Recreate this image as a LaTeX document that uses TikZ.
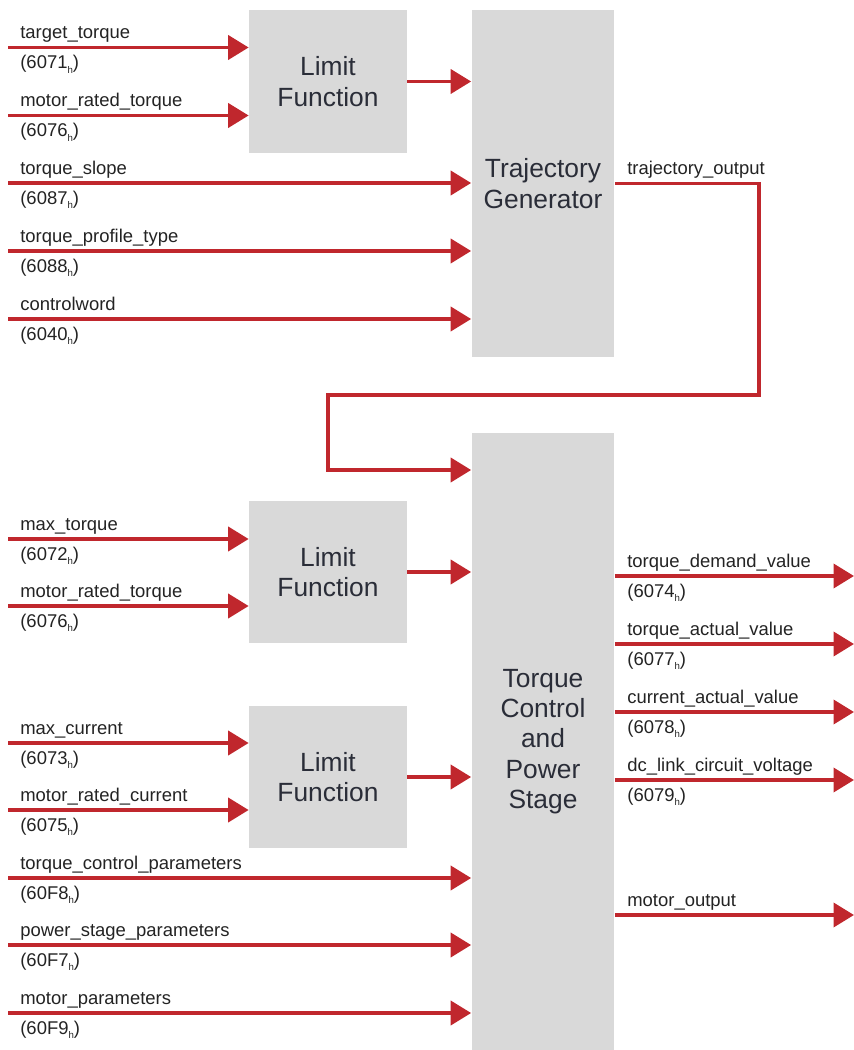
\documentclass[tikz,border=0pt]{standalone}
\usepackage{fontspec}
\setmainfont{Liberation Sans}
\usetikzlibrary{arrows.meta,positioning}
\definecolor{sigred}{RGB}{192,39,45}
\definecolor{blockgray}{RGB}{217,217,217}
\definecolor{blocktext}{RGB}{42,45,56}
\definecolor{labeltext}{RGB}{35,35,35}
\newcommand{\objidx}[1]{(#1\raisebox{-0.45ex}{\fontsize{5.5}{6}\selectfont h})}

\tikzset{
  block/.style={fill=blockgray, draw=none, font=\fontsize{15}{17.2}\selectfont,
    text=blocktext, align=center, inner sep=0pt},
  limitbox/.style={block, minimum width=3.16cm, minimum height=2.85cm},
  sig/.style={draw=sigred, line width=2.2pt, -{Triangle[length=0.41cm,width=0.48cm]}},
  siglabel/.style={font=\fontsize{10.5}{12}\selectfont, text=labeltext,
    anchor=base west, inner sep=0pt},
}

\begin{document}
\begin{tikzpicture}[x=0.02cm, y=-0.02cm]
  \useasboundingbox (0,0) rectangle (854,1050);

  % Blocks
  \node[limitbox] (lim1) at (328,81.5) {Limit\\Function};
  \node[block, minimum width=2.86cm, minimum height=6.94cm] (traj) at (543,183.5) {Trajectory\\Generator};
  \node[limitbox] (lim2) at (328,572) {Limit\\Function};
  \node[limitbox] (lim3) at (328,777) {Limit\\Function};
  \node[block, minimum width=2.86cm, minimum height=12.34cm] (tcps) at (543,741.5) {Torque\\Control\\and\\Power\\Stage};

  % Input objects (y / name / index / target block)
  \foreach \y/\nm/\idx/\tgt [count=\i] in {
    47.5/target\_torque/6071/lim1, 115.5/motor\_rated\_torque/6076/lim1,
    183/torque\_slope/6087/traj, 251/torque\_profile\_type/6088/traj,
    319/controlword/6040/traj,
    539/max\_torque/6072/lim2, 606/motor\_rated\_torque/6076/lim2,
    743/max\_current/6073/lim3, 810/motor\_rated\_current/6075/lim3,
    878/torque\_control\_parameters/60F8/tcps,
    945/power\_stage\_parameters/60F7/tcps,
    1013/motor\_parameters/60F9/tcps%
  }{
    \coordinate (in\i) at (8,\y);
    \draw[sig] (in\i) -- (in\i -| \tgt.west);
    \node[siglabel] (in\i-nm) at (20,\y-8.5) {\nm};
    \node[siglabel] (in\i-idx) at (20,\y+21.5) {\objidx{\idx}};
  }

  % Limit functions into the next stage
  \draw[sig] (lim1.east) -- (lim1.east -| traj.west);
  \draw[sig] (lim2.east) -- (lim2.east -| tcps.west);
  \draw[sig] (lim3.east) -- (lim3.east -| tcps.west);

  % Trajectory output fed back into torque control
  \coordinate (fbR) at (759,395);
  \coordinate (fbL) at (328,395);
  \coordinate (fbIn) at (328,470);
  \draw[sig] (traj.east) -| (fbR) -- (fbL) -- (fbIn) -- (fbIn -| tcps.west);
  \node[siglabel] (trajout) at (627,174.5) {trajectory\_output};

  % Output objects
  \foreach \y/\nm/\idx [count=\i] in {
    576/torque\_demand\_value/6074, 644/torque\_actual\_value/6077,
    712/current\_actual\_value/6078, 780/dc\_link\_circuit\_voltage/6079%
  }{
    \coordinate (out\i) at (854,\y);
    \draw[sig] (tcps.east |- out\i) -- (out\i);
    \node[siglabel] (out\i-nm) at (627,\y-8.5) {\nm};
    \node[siglabel] (out\i-idx) at (627,\y+21.5) {\objidx{\idx}};
  }
  \coordinate (motout) at (854,915);
  \draw[sig] (tcps.east |- motout) -- (motout);
  \node[siglabel] (motout-nm) at (627,906.5) {motor\_output};
\end{tikzpicture}
\end{document}
